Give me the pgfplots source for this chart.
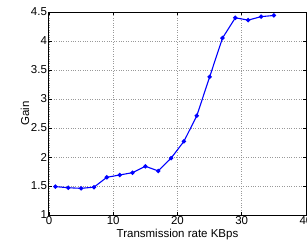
\documentclass[border=0pt]{standalone}
\usepackage{pgfplots}
\pgfplotsset{compat=1.18}
\usepackage{fontspec}
\setmainfont{Liberation Sans}
\begin{document}
\fontsize{11.5pt}{13pt}\selectfont
\begin{tikzpicture}
\begin{axis}[
  scale only axis, width=257pt, height=203pt,
  xmin=0, xmax=40, ymin=1, ymax=4.5,
  xtick={0,10,20,30,40}, ytick={1,1.5,2,2.5,3,3.5,4,4.5},
  grid=major, major grid style={dotted, gray!80, line width=0.5pt},
  tick align=inside, major tick length=3pt,
  axis line style={line width=1pt},
  tick style={black, line width=0.5pt},
  /pgf/number format/assume math mode=true,
  ticklabel style={font=\fontsize{11.5pt}{13pt}\selectfont},
  xticklabel style={yshift=3pt},
  yticklabel style={xshift=2pt},
  xlabel={Transmission rate KBps},
  ylabel={Gain},
  xlabel style={yshift=3pt, font=\fontsize{11.5pt}{13pt}\selectfont},
  ylabel style={yshift=-6pt, font=\fontsize{11.5pt}{13pt}\selectfont},
]
\addplot[blue, line width=1.1pt, mark=*, mark size=1.6pt] coordinates {
(1,1.49) (3,1.47) (5,1.46) (7,1.48) (9,1.65) (11,1.69) (13,1.73) (15,1.84)
(17,1.76) (19,1.98) (21,2.27) (23,2.71) (25,3.38) (27,4.05) (29,4.40)
(31,4.36) (33,4.42) (35,4.44)
};
\end{axis}
\pgfresetboundingbox
\path (-49pt,-26pt) rectangle (258pt,215pt);
\end{tikzpicture}
\end{document}
